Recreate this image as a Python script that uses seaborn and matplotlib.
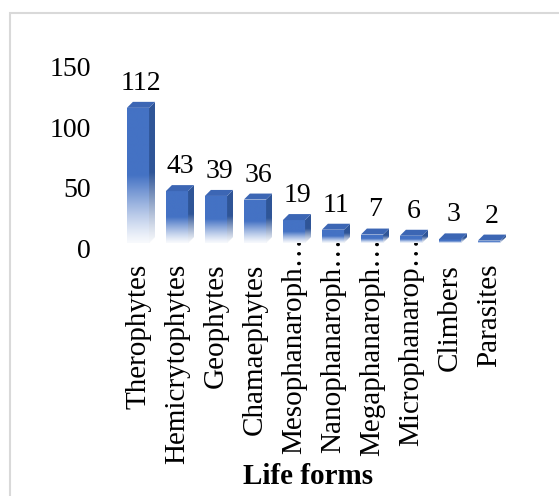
import numpy as np
import pandas as pd
import matplotlib
matplotlib.use("Agg")
import matplotlib.pyplot as plt
import matplotlib.transforms as mtransforms
from matplotlib.patches import Polygon, Rectangle
from matplotlib.colors import to_rgb
import seaborn as sns

# Life-form spectrum
categories = ["Therophytes", "Hemicrytophytes", "Geophytes", "Chamaephytes",
              "Mesophanaroph…", "Nanophanaroph…", "Megaphanaroph…",
              "Microphanarop…", "Climbers", "Parasites"]
counts = [112, 43, 39, 36, 19, 11, 7, 6, 3, 2]
y_ticks = [0, 50, 100, 150]
x_title = "Life forms"

sns.set_theme(style="white")
plt.rcParams["font.family"] = ["Liberation Serif", "DejaVu Serif"]

W, H, DPI = 559, 496, 100
fig = plt.figure(figsize=(W / DPI, H / DPI), dpi=DPI)
fig.patch.set_facecolor("white")

# plot area in pixels
left_px, right_px = 118.5, 508.5
top_px, bottom_px = 62.0, 243.0
ax = fig.add_axes([left_px / W, 1 - bottom_px / H,
                   (right_px - left_px) / W, (bottom_px - top_px) / H])

df = pd.DataFrame({"form": categories, "count": counts})
sns.barplot(data=df, x="form", y="count", order=categories, color="#4472C4",
            width=0.57, ax=ax, errorbar=None)

ax.set_xlim(-0.5, len(categories) - 0.5)
ax.set_ylim(0, 150)

front_top = np.array(to_rgb("#4472C4"))
side_top = np.array(to_rgb("#2F5597"))
top_face = "#3C66B4"
white = np.ones(3)

# depth of the pseudo-3D extrusion, in data units
px_per_x = (right_px - left_px) / len(categories)
px_per_y = (bottom_px - top_px) / 150.0
dx = 6.0 / px_per_x
dy = 6.0 / px_per_y


def vertical_gradient(color, n=256, solid_from=0.5, floor=0.04):
    f = np.linspace(0, 1, n)
    t = np.clip(f / solid_from, 0, 1) ** 1.2
    t = floor + (1 - floor) * t
    rgb = white[None, :] * (1 - t[:, None]) + color[None, :] * t[:, None]
    return rgb[:, None, :]


for patch, val in zip(ax.patches, counts):
    x0 = patch.get_x()
    w = patch.get_width()
    h = patch.get_height()
    x1 = x0 + w
    patch.set_facecolor("none")
    patch.set_edgecolor("none")

    # front face with fade toward the floor
    img = ax.imshow(vertical_gradient(front_top), extent=[x0, x1, 0, h],
                    origin="lower", aspect="auto", zorder=2, interpolation="bilinear")
    img.set_clip_path(patch)

    # right side face
    side = Polygon([(x1, 0), (x1, h), (x1 + dx, h + dy), (x1 + dx, dy)],
                   closed=True, facecolor="none", edgecolor="none")
    ax.add_patch(side)
    simg = ax.imshow(vertical_gradient(side_top), extent=[x1, x1 + dx, 0, h + dy],
                     origin="lower", aspect="auto", zorder=2, interpolation="bilinear")
    simg.set_clip_path(side)

    # top face
    ax.add_patch(Polygon([(x0, h), (x1, h), (x1 + dx, h + dy), (x0 + dx, h + dy)],
                         closed=True, facecolor=top_face, edgecolor="none", zorder=3))

    # value label
    ax.annotate(f"{val}", xy=(x0 + w / 2 + dx / 2, h), xytext=(0, 13),
                textcoords="offset points", ha="center", va="baseline",
                fontsize=20, color="black", zorder=4)

ax.set_xlim(-0.5, len(categories) - 0.5)
ax.set_ylim(0, 150)

ax.set_yticks(y_ticks)
ax.set_yticklabels([str(v) for v in y_ticks])
ax.tick_params(axis="y", length=0, pad=20, labelsize=20, labelcolor="black")
ax.tick_params(axis="x", length=0, pad=15, labelsize=21, labelcolor="black")
tick_fs = 21
for lab in ax.get_xticklabels():
    lab.set_rotation(90)
    lab.set_va("top")
    lab.set_ha("center")
    # truncated names: the ellipsis reaches up past the others toward the bars
    if lab.get_text().endswith("…"):
        up = mtransforms.ScaledTranslation(0, 0.9 * tick_fs / 72, fig.dpi_scale_trans)
        lab.set_transform(lab.get_transform() + up)

# the value axis labels sit slightly below the extruded floor
shift = mtransforms.ScaledTranslation(0, -5 / DPI, fig.dpi_scale_trans)
for lab in ax.get_yticklabels():
    lab.set_transform(lab.get_transform() + shift)

ax.set_xlabel(x_title, fontsize=21, fontweight="bold", color="black")
ax.set_ylabel("")
ax.xaxis.set_label_coords((308 - left_px) / (right_px - left_px),
                          (bottom_px - 476) / (bottom_px - top_px))
ax.xaxis.label.set_va("center")

for s in ax.spines.values():
    s.set_visible(False)
ax.grid(False)
ax.set_facecolor("none")

# chart-area outline
fig.patches.append(Rectangle((10 / W, -0.1), 1.2, 1.1 - 13.5 / H,
                             transform=fig.transFigure, fill=False,
                             edgecolor="#D9D9D9", linewidth=1.5, zorder=0))

fig.savefig("out.png", dpi=DPI)
